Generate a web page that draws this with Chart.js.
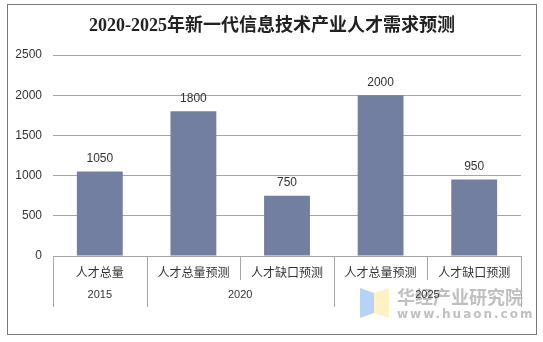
<!DOCTYPE html>
<html>
<head>
<meta charset="utf-8">
<script src="https://cdn.jsdelivr.net/npm/chart.js@4.4.0/dist/chart.umd.min.js"></script>
<style>
  html, body { margin: 0; padding: 0; background: #fff; }
  #wrap { width: 543px; height: 342px; }
</style>
</head>
<body>
<div id="wrap"><canvas id="talentChart" width="543" height="342"></canvas></div>
<script>
// data
const categories = ["人才总量", "人才总量预测", "人才缺口预测", "人才总量预测", "人才缺口预测"];
const values = [1050, 1800, 750, 2000, 950];
const groups = ["2015", "2020", "2025"];
const groupSpans = [[0, 0], [1, 2], [3, 4]];
const yTicks = [0, 500, 1000, 1500, 2000, 2500];

const titleText = "2020-2025年新一代信息技术产业人才需求预测";
const barColor = "#737fa1";
const lineColor = "#a6a6a6";
const textColor = "#333333";

// frame, title, value labels, multi-level axis, watermark
const decorPlugin = {
  id: "decor",
  beforeDraw(chart) {
    const c = chart.ctx;
    c.save();
    c.fillStyle = "#fff";
    c.fillRect(0, 0, chart.width, chart.height);
    c.strokeStyle = "#7a7a7a";
    c.lineWidth = 1;
    c.strokeRect(7.5, 4.5, 529, 330);
    c.fillStyle = "#222";
    c.font = "bold 18px 'Liberation Serif', 'Noto Sans CJK SC', serif";
    c.textAlign = "center";
    c.textBaseline = "middle";
    c.fillText(titleText, 272, 26);
    c.restore();
  },
  afterDraw(chart) {
    const c = chart.ctx;
    const x = chart.scales.x;
    const area = chart.chartArea;
    const half = (x.getPixelForValue(1) - x.getPixelForValue(0)) / 2;
    c.save();

    // value labels
    c.fillStyle = textColor;
    c.font = "12px 'Liberation Sans', Arial, sans-serif";
    c.textAlign = "center";
    c.textBaseline = "middle";
    const meta = chart.getDatasetMeta(0);
    meta.data.forEach((bar, i) => {
      c.fillText(String(values[i]), bar.x, bar.y - 13);
    });

    // separators
    c.strokeStyle = lineColor;
    c.lineWidth = 1;
    const bounds = new Set();
    groupSpans.forEach(s => { bounds.add(s[0]); bounds.add(s[1] + 1); });
    for (let i = 0; i <= categories.length; i++) {
      const px = Math.round(x.getPixelForValue(i) - half) + 0.5;
      const bottom = bounds.has(i) ? area.bottom + 51 : area.bottom + 24;
      c.beginPath();
      c.moveTo(px, area.bottom);
      c.lineTo(px, bottom);
      c.stroke();
    }

    // watermark
    c.globalAlpha = 0.85;
    c.fillStyle = "#a9cbf5";
    c.beginPath();
    c.moveTo(360, 288); c.lineTo(374, 293); c.lineTo(374, 313); c.lineTo(360, 318);
    c.closePath(); c.fill();
    c.fillStyle = "#fdf0b8";
    c.beginPath();
    c.moveTo(374, 293); c.lineTo(389, 288); c.lineTo(389, 318); c.lineTo(374, 313);
    c.closePath(); c.fill();
    c.fillStyle = "#b5b5b5";
    c.textAlign = "left";
    c.font = "bold 18px 'Noto Sans CJK SC', sans-serif";
    c.fillText("华经产业研究院", 397, 297);
    c.font = "bold 12px 'DejaVu Sans', sans-serif";
    c.letterSpacing = "2px";
    c.fillText("www.huaon.com", 397, 315);
    c.letterSpacing = "0px";
    c.globalAlpha = 1;

    // group labels
    c.fillStyle = textColor;
    c.textAlign = "center";
    c.font = "11px 'Liberation Sans', Arial, sans-serif";
    groups.forEach((g, i) => {
      const a = x.getPixelForValue(groupSpans[i][0]) - half;
      const b = x.getPixelForValue(groupSpans[i][1]) + half;
      c.fillText(g, (a + b) / 2, area.bottom + 39);
    });
    c.restore();
  }
};

const ctx = document.getElementById("talentChart").getContext("2d");
new Chart(ctx, {
  type: "bar",
  data: {
    labels: categories,
    datasets: [{
      label: "人才需求",
      data: values,
      backgroundColor: barColor,
      categoryPercentage: 1,
      barPercentage: 0.49
    }]
  },
  options: {
    responsive: false,
    animation: false,
    layout: { padding: { left: 0, right: 22, top: 55, bottom: 0 } },
    plugins: { legend: { display: false }, title: { display: false }, tooltip: { enabled: false } },
    scales: {
      x: {
        afterFit(s) { s.height = 86; },
        grid: { display: false, drawTicks: false },
        border: { display: true, color: lineColor },
        ticks: {
          color: textColor,
          padding: 9,
          maxRotation: 0,
          autoSkip: false,
          font: { size: 12, family: "'Noto Sans CJK SC', sans-serif" }
        }
      },
      y: {
        min: 0,
        max: 2500,
        afterFit(s) { s.width = 53; },
        afterBuildTicks(s) { s.ticks = yTicks.map(v => ({ value: v })); },
        grid: { color: lineColor, drawTicks: false },
        border: { display: false },
        ticks: {
          color: textColor,
          padding: 11,
          callback: v => String(v),
          font: { size: 12, family: "'Liberation Sans', Arial, sans-serif" }
        }
      }
    }
  },
  plugins: [decorPlugin]
});
</script>
</body>
</html>
